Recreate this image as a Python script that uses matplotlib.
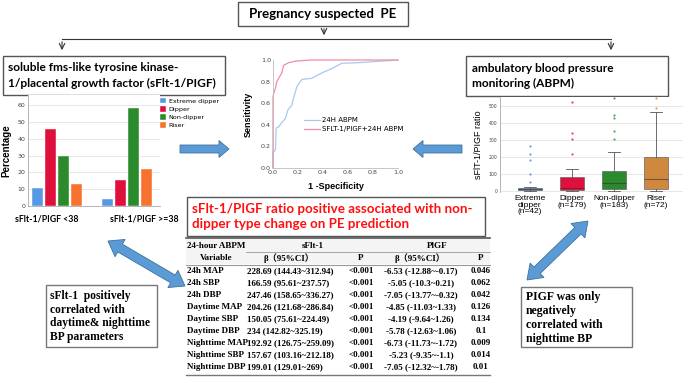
import numpy as np
import matplotlib
matplotlib.use("Agg")
import matplotlib.pyplot as plt
from matplotlib.patches import Rectangle, Polygon

# ---------------- data ----------------
bar_groups = ["sFlt-1/PIGF <38", "sFlt-1/PIGF >=38"]
bar_series = ["Extreme dipper", "Dipper", "Non-dipper", "Riser"]
bar_values = {
    "Extreme dipper": [10.5, 4.0],
    "Dipper": [45.5, 15.5],
    "Non-dipper": [30.0, 58.0],
    "Riser": [13.0, 22.0],
}
bar_colors = ["#5599e6", "#e0103c", "#2b8a2b", "#f7722e"]
bar_yticks = [0, 10, 20, 30, 40, 50, 60]

roc_fpr_abpm = [0, 0, 0.02, 0.025, 0.045, 0.07, 0.10, 0.12, 0.15, 0.165, 0.19, 0.23, 0.31, 0.39, 0.47, 0.55, 0.68, 0.81, 1.0]
roc_tpr_abpm = [0, 0.14, 0.17, 0.37, 0.38, 0.42, 0.46, 0.54, 0.58, 0.65, 0.75, 0.82, 0.83, 0.88, 0.92, 0.97, 0.975, 0.985, 1.0]
roc_fpr_comb = [0, 0, 0.005, 0.02, 0.03, 0.045, 0.07, 0.085, 0.125, 0.18, 0.31, 1.0]
roc_tpr_comb = [0, 0.65, 0.69, 0.74, 0.80, 0.83, 0.88, 0.95, 0.975, 0.99, 1.0, 1.0]
roc_labels = ["24H ABPM", "SFLT-1/PIGF+24H ABPM"]
roc_ticks = [0.0, 0.2, 0.4, 0.6, 0.8, 1.0]

box_labels = ["Extreme\ndipper\n(n=42)", "Dipper\n(n=179)", "Non-dipper\n(n=183)", "Riser\n(n=72)"]
box_q1 = [3, 5, 10, 10]
box_med = [10, 15, 45, 70]
box_q3 = [20, 80, 115, 198]
box_whislo = [0, 0, 0, 0]
box_whishi = [25, 130, 232, 462]
box_fliers = [[55, 100, 180, 220, 265], [220, 305, 340, 525], [305, 355, 430, 450, 545], [490, 545]]
box_colors = ["#4f82c4", "#e0103c", "#2b8a2b", "#d0883f"]
box_yticks = [0, 100, 200, 300, 400, 500]

tbl_vars = ["24h MAP", "24h SBP", "24h DBP", "Daytime MAP", "Daytime SBP", "Daytime DBP",
            "Nighttime MAP", "Nighttime SBP", "Nighttime DBP"]
tbl_sflt_beta = ["228.69 (144.43~312.94)", "166.59 (95.61~237.57)", "247.46 (158.65~336.27)",
                 "204.26 (121.68~286.84)", "150.05 (75.61~224.49)", "234 (142.82~325.19)",
                 "192.92 (126.75~259.09)", "157.67 (103.16~212.18)", "199.01 (129.01~269)"]
tbl_sflt_p = ["<0.001"] * 9
tbl_plgf_beta = ["-6.53 (-12.88~-0.17)", "-5.05 (-10.3~0.21)", "-7.05 (-13.77~-0.32)",
                 "-4.85 (-11.03~1.33)", "-4.19 (-9.64~1.26)", "-5.78 (-12.63~1.06)",
                 "-6.73 (-11.73~-1.72)", "-5.23 (-9.35~-1.1)", "-7.05 (-12.32~-1.78)"]
tbl_plgf_p = ["0.046", "0.062", "0.042", "0.126", "0.134", "0.1", "0.009", "0.014", "0.01"]

# ---------------- figure ----------------
W, H = 685, 386
fig = plt.figure(figsize=(W / 100, H / 100), dpi=100)
bg = fig.add_axes([0, 0, 1, 1])
bg.set_xlim(0, W)
bg.set_ylim(H, 0)
bg.axis("off")

SANS = ["Lato", "DejaVu Sans"]
SERIF = ["Liberation Serif", "Noto Sans CJK SC"]


def px_axes(x0, y0, x1, y1):
    return fig.add_axes([x0 / W, 1 - y1 / H, (x1 - x0) / W, (y1 - y0) / H])


def box(x0, y0, x1, y1, ec="#555555", lw=1.0):
    bg.add_patch(Rectangle((x0, y0), x1 - x0, y1 - y0, fill=False, ec=ec, lw=lw))


def block_arrow(p0, p1, shaft, headw, headl, double=False):
    p0 = np.array(p0, float); p1 = np.array(p1, float)
    d = p1 - p0; L = np.hypot(*d); u = d / L; n = np.array([-u[1], u[0]])
    pts = []
    if double:
        a = p0 + u * headl
        pts += [p0, a + n * headw / 2, a + n * shaft / 2]
    else:
        pts += [p0 + n * shaft / 2]
    b = p1 - u * headl
    pts += [b + n * shaft / 2, b + n * headw / 2, p1, b - n * headw / 2, b - n * shaft / 2]
    if double:
        pts += [a - n * shaft / 2, a - n * headw / 2]
    else:
        pts += [p0 - n * shaft / 2]
    bg.add_patch(Polygon(pts, closed=True, fc="#5b9bd5", ec="#41719c", lw=0.6, zorder=5))


# top flow
box(238, 2, 408, 26)
bg.text(323, 14, "Pregnancy suspected  PE", ha="center", va="center", fontsize=9.5,
        fontweight="bold", family=SANS)
bg.annotate("", xy=(324, 38), xytext=(324, 26),
            arrowprops=dict(arrowstyle="->", lw=0.8, color="#333333"))
bg.plot([62, 611], [39, 39], color="#333333", lw=0.8)
for xx in (62, 611):
    bg.annotate("", xy=(xx, 53), xytext=(xx, 39),
                arrowprops=dict(arrowstyle="->", lw=0.8, color="#333333"))

box(3, 56, 225, 95)
bg.text(8, 75.5, "soluble fms-like tyrosine kinase-\n1/placental growth factor (sFlt-1/PIGF)",
        ha="left", va="center", fontsize=8.6, fontweight="bold", family=SANS, linespacing=1.5)
box(466, 56, 668, 96)
bg.text(472, 76, "ambulatory blood pressure\nmonitoring (ABPM)", ha="left", va="center",
        fontsize=8.6, fontweight="bold", family=SANS, linespacing=1.5)

# ---------------- bar chart ----------------
axb = px_axes(28, 95, 160, 206)
bw = 0.157
step = 0.186
for s, name in enumerate(bar_series):
    xs = np.arange(len(bar_groups)) + (s - 1.5) * step
    axb.bar(xs, bar_values[name], width=bw, color=bar_colors[s], label=name, zorder=3,
            edgecolor="white", linewidth=0.3)
axb.set_xlim(-0.414, -0.414 + 132 / 70)
axb.set_ylim(0, 66)
axb.set_yticks(bar_yticks)
axb.set_xticks([])
axb.tick_params(axis="y", labelsize=4.5, length=0, pad=2, labelcolor="#444444")
axb.grid(axis="y", color="#dddddd", lw=0.5, zorder=0)
for sp in ["top", "right"]:
    axb.spines[sp].set_visible(False)
for sp in ["left", "bottom"]:
    axb.spines[sp].set_color("#aaaaaa"); axb.spines[sp].set_linewidth(0.6)
axb.set_ylabel("Percentage", fontsize=7, fontweight="bold", labelpad=4, family=["Liberation Sans"])
axb.legend(loc="upper left", bbox_to_anchor=(0.98, 1.0), fontsize=4.6, frameon=False,
           handlelength=1.0, handleheight=1.0, handletextpad=0.4, labelspacing=0.35,
           borderaxespad=0.0)
for lab, cx in zip(bar_groups, (47, 144)):
    bg.text(cx, 219, lab, ha="center", va="center", fontsize=6.3, family=SANS, fontweight="bold")

# ---------------- ROC ----------------
axr = px_axes(273, 60, 398, 168)
axr.plot(roc_fpr_abpm, roc_tpr_abpm, color="#a8c8f0", lw=0.9, label=roc_labels[0], clip_on=False)
axr.plot(roc_fpr_comb, roc_tpr_comb, color="#f08ca4", lw=0.9, label=roc_labels[1], clip_on=False)
axr.set_xlim(0, 1); axr.set_ylim(0, 1)
axr.set_xticks(roc_ticks); axr.set_yticks(roc_ticks)
axr.tick_params(labelsize=4.6, length=0, pad=1.5, labelcolor="#444444")
for sp in ["top", "right"]:
    axr.spines[sp].set_visible(False)
for sp in ["left", "bottom"]:
    axr.spines[sp].set_color("#bbbbbb"); axr.spines[sp].set_linewidth(0.6)
axr.set_ylabel("Sensitivity", fontsize=6.5, fontweight="bold", labelpad=6, family=["Liberation Sans"])
axr.set_xlabel("1 -Specificity", fontsize=6.5, fontweight="bold", labelpad=5, family=["Liberation Sans"])
axr.legend(loc="center left", bbox_to_anchor=(0.2, 0.4), fontsize=5, frameon=False,
           handlelength=2.2, handletextpad=0.4, labelspacing=0.4)

# ---------------- box plot ----------------
axx = px_axes(500, 97, 683, 192)
stats = []
for i in range(4):
    stats.append(dict(med=box_med[i], q1=box_q1[i], q3=box_q3[i], whislo=box_whislo[i],
                      whishi=box_whishi[i], fliers=[]))
bp = axx.bxp(stats, positions=np.arange(4), widths=0.57, patch_artist=True, showfliers=False,
             medianprops=dict(color="#333333", lw=0.8, alpha=0.6),
             whiskerprops=dict(color="#555555", lw=0.6),
             capprops=dict(color="#555555", lw=0.6))
for patch, c in zip(bp["boxes"], box_colors):
    patch.set_facecolor(c); patch.set_edgecolor("#666666"); patch.set_linewidth(0.5)
for i in range(4):
    fl = box_fliers[i]
    axx.scatter([i] * len(fl), fl, s=2.5, color=box_colors[i], alpha=0.8, zorder=4, lw=0)
axx.set_xlim(-0.71, -0.71 + 183 / 42)
axx.set_ylim(-6, 553)
axx.set_yticks(box_yticks)
axx.set_xticks(np.arange(4))
axx.set_xticklabels(box_labels, fontsize=6, family=["Liberation Sans"], linespacing=0.95)
axx.tick_params(axis="y", labelsize=3.3, length=0, pad=2, labelcolor="#444444")
axx.tick_params(axis="x", length=0, pad=2)
axx.grid(axis="y", color="#dddddd", lw=0.5, zorder=0)
axx.set_axisbelow(True)
for sp in ["top", "right", "bottom"]:
    axx.spines[sp].set_visible(False)
axx.spines["left"].set_color("#aaaaaa"); axx.spines["left"].set_linewidth(0.6)
axx.set_ylabel("sFlT-1/PIGF ratio", fontsize=6.5, labelpad=4, family=["Liberation Sans"])

# ---------------- arrows ----------------
block_arrow((180, 149), (229, 149), 8, 17, 10)
block_arrow((462, 149), (413, 149), 8, 17, 10)
block_arrow((108, 241), (185, 286), 9, 20, 14, double=True)
block_arrow((588, 221), (527, 280), 9, 20, 14, double=True)

# ---------------- red statement ----------------
box(187, 197, 485, 236)
bg.text(192, 216.5, "sFlt-1/PIGF ratio positive associated with non-\ndipper type change on PE prediction",
        ha="left", va="center", fontsize=9.6, fontweight="bold", color="#ff1010", family=SANS,
        linespacing=1.3)

# ---------------- table ----------------
tx0, tx1 = 186, 490
bg.add_patch(Rectangle((tx0, 238), tx1 - tx0, 26, color="#f4f4f4", zorder=0, lw=0))
bg.plot([tx0, tx1], [237.5, 237.5], color="#555555", lw=1.2)
bg.plot([246, tx1], [252, 252], color="#999999", lw=0.6)
bg.plot([tx0, tx1], [264.5, 264.5], color="#999999", lw=0.8)
tf = dict(fontsize=6.5, fontweight="bold", family=SERIF, va="center")
bg.text(187, 245.5, "24-hour ABPM", ha="left", **tf)
bg.text(313, 245.5, "sFlt-1", ha="center", **tf)
bg.text(437, 245.5, "PlGF", ha="center", **tf)
bg.text(216, 258.5, "Variable", ha="center", **tf)
bg.text(289, 258.5, "β（95%CI）", ha="center", **tf)
bg.text(361, 258.5, "P", ha="center", **tf)
bg.text(420, 258.5, "β（95%CI）", ha="center", **tf)
bg.text(481, 258.5, "P", ha="center", **tf)
for i in range(len(tbl_vars)):
    y = 271 + i * 12.0
    bg.text(187, y, tbl_vars[i], ha="left", **tf)
    bg.text(247, y, tbl_sflt_beta[i], ha="left", **tf)
    bg.text(361, y, tbl_sflt_p[i], ha="center", **tf)
    bg.text(421, y, tbl_plgf_beta[i], ha="center", **tf)
    bg.text(481, y, tbl_plgf_p[i], ha="center", **tf)
bg.plot([tx0, tx1], [375, 375], color="#777777", lw=1.0)

# ---------------- side boxes ----------------
box(46, 285, 157, 347, ec="#777777")
bg.text(50, 316.5, "sFlt-1  positively\ncorrelated with\ndaytime& nighttime\nBP parameters",
        ha="left", va="center", fontsize=8.3, fontweight="bold", family=SERIF, linespacing=1.22)
box(521, 287, 632, 347, ec="#777777")
bg.text(526, 318, "PIGF was only\nnegatively\ncorrelated with\nnighttime BP",
        ha="left", va="center", fontsize=8.5, fontweight="bold", family=SERIF, linespacing=1.2)

fig.savefig("out.png", dpi=100)
